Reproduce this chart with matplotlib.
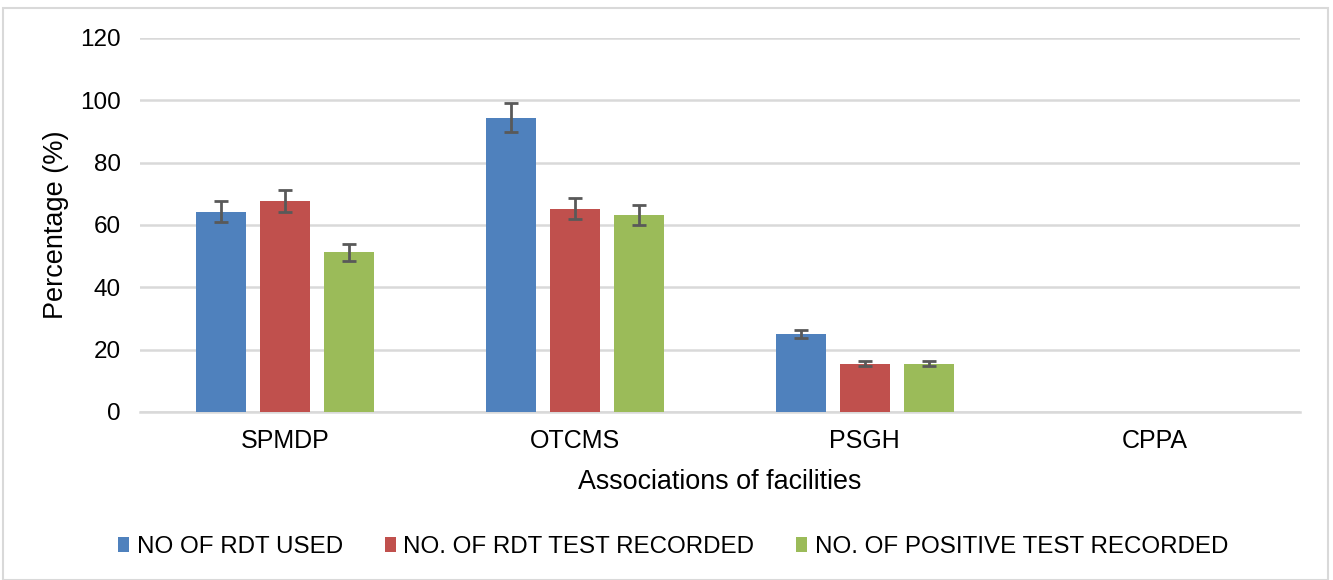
import numpy as np
import matplotlib.pyplot as plt
from matplotlib.patches import Rectangle

plt.rcParams['font.family'] = ['Liberation Sans', 'DejaVu Sans']

categories = ['SPMDP', 'OTCMS', 'PSGH', 'CPPA']
series = ['NO OF RDT USED', 'NO. OF RDT TEST RECORDED', 'NO. OF POSITIVE TEST RECORDED']
rdt_used = [64.3, 94.4, 24.9, 0]
rdt_recorded = [67.7, 65.2, 15.5, 0]
positive = [51.2, 63.1, 15.5, 0]
err_used = [3.4, 4.7, 1.3, 0]
err_recorded = [3.6, 3.3, 0.9, 0]
err_positive = [2.7, 3.2, 0.9, 0]
colors = ['#4F81BD', '#C0504D', '#9BBB59']

fig = plt.figure(figsize=(13.33, 5.8), dpi=100)
ax = fig.add_axes([0.105, 0.2897, 0.87, 0.6448])

x = np.arange(len(categories))
width = 0.172
step = 0.221
values = [rdt_used, rdt_recorded, positive]
errs = [err_used, err_recorded, err_positive]
for i, (vals, err, col, name) in enumerate(zip(values, errs, colors, series)):
    xs = x + (i - 1) * step
    ax.bar(xs, vals, width, color=col, label=name, zorder=3)
    show = [j for j, v in enumerate(vals) if v > 0]
    ax.errorbar(xs[show], np.array(vals)[show], yerr=np.array(err)[show], fmt='none',
                ecolor='#595959', elinewidth=2, capsize=5, capthick=2, zorder=4)

ax.set_xlim(-0.5, 3.5)
ax.set_ylim(0, 120)
ax.set_yticks(range(0, 121, 20))
ax.yaxis.grid(True, color='#D9D9D9', linewidth=1.8, zorder=0)
for s in ['top', 'right', 'left']:
    ax.spines[s].set_visible(False)
ax.spines['bottom'].set_color('#D9D9D9')
ax.spines['bottom'].set_linewidth(1.8)
ax.tick_params(axis='y', length=0, labelsize=17.5, pad=14)
ax.tick_params(axis='x', length=0, pad=12)
ax.set_xticks(x)
ax.set_xticklabels(categories, fontsize=18)
ax.set_xlabel('Associations of facilities', fontsize=19.4, labelpad=12)
ax.set_ylabel('Percentage (%)', fontsize=19.5, labelpad=8)

fig.legend(loc='center', bbox_to_anchor=(0.505, 0.057), ncol=3, frameon=False,
           fontsize=17.4, handlelength=0.45, handleheight=0.6, handletextpad=0.3,
           columnspacing=1.75)

fig.patches.append(Rectangle((3 / 1333, 0.0), 1325 / 1333, 1 - 8 / 580, transform=fig.transFigure,
                             fill=False, edgecolor='#D9D9D9', linewidth=1.5))

fig.savefig('out.png', dpi=100)
